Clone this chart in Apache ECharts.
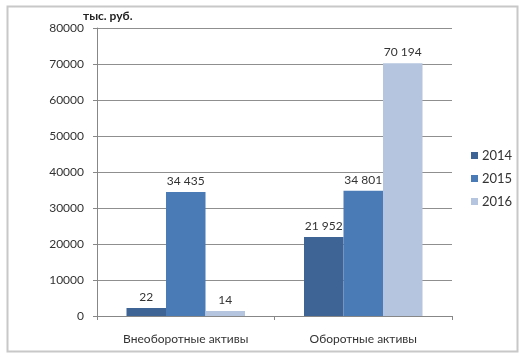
<!DOCTYPE html>
<html><head><meta charset="utf-8">
<script src="https://cdn.jsdelivr.net/npm/echarts@6/dist/echarts.min.js"></script>
<style>html,body{margin:0;padding:0;background:#fff}#c{width:522px;height:355px}</style>
</head><body><div id="c"></div>
<script>
const categories = ['Внеоборотные активы', 'Оборотные активы'];
const years = ['2014', '2015', '2016'];
const values2014 = [22, 21952];
const values2015 = [34435, 34801];
const values2016 = [14, 70194];
const yTicks = [0, 10000, 20000, 30000, 40000, 50000, 60000, 70000, 80000];
const unitLabel = 'тыс. руб.';

const colors = ['#3D6495', '#4A7BB6', '#B5C4DF'];
const minHeights = [8, 0, 5];
const font = 'Lato, "Open Sans", sans-serif';
const fmt = v => String(v).replace(/\B(?=(\d{3})+(?!\d))/g, ' ');

const chart = echarts.init(document.getElementById('c'), null, {renderer: 'canvas'});
const seriesData = [values2014, values2015, values2016];
chart.setOption({
  animation: false,
  color: colors,
  textStyle: {fontFamily: font},
  grid: {left: 97, top: 28, right: 70, bottom: 39},
  graphic: [{
    type: 'rect', left: 5, top: 4, z: -1,
    shape: {width: 510, height: 345},
    style: {fill: 'none', stroke: '#c8c8c8', lineWidth: 2}
  }, {
    type: 'text', left: 83, top: 10,
    style: {text: unitLabel, font: 'bold 12px ' + font, fill: '#222'}
  }],
  legend: {
    orient: 'vertical', left: 466, top: 144, itemWidth: 7, itemHeight: 7, itemGap: 10,
    icon: 'rect',
    textStyle: {fontSize: 13, color: '#333', fontFamily: font, padding: [0, 0, 0, -1]},
    data: years
  },
  xAxis: {
    type: 'category', data: categories,
    axisLine: {lineStyle: {color: '#878787'}},
    axisTick: {show: true, length: 4, lineStyle: {color: '#878787'}},
    axisLabel: {color: '#333', fontSize: 12, margin: 17, fontFamily: font}
  },
  yAxis: {
    type: 'value', min: yTicks[0], max: yTicks[yTicks.length - 1], interval: yTicks[1] - yTicks[0],
    axisLine: {show: true, lineStyle: {color: '#878787'}},
    axisTick: {show: true, length: 4, lineStyle: {color: '#878787'}},
    splitLine: {lineStyle: {color: '#8f8f8f'}},
    axisLabel: {color: '#333', fontSize: 12, margin: 13, fontFamily: font, formatter: v => String(v)}
  },
  series: years.map((y, i) => ({
    name: y, type: 'bar', data: seriesData[i],
    barWidth: 39.5, barGap: '0%', barMinHeight: minHeights[i],
    label: {show: true, position: 'top', distance: 5, color: '#333', fontSize: 12, fontFamily: font,
      formatter: p => fmt(p.value)}
  }))
});
</script></body></html>
